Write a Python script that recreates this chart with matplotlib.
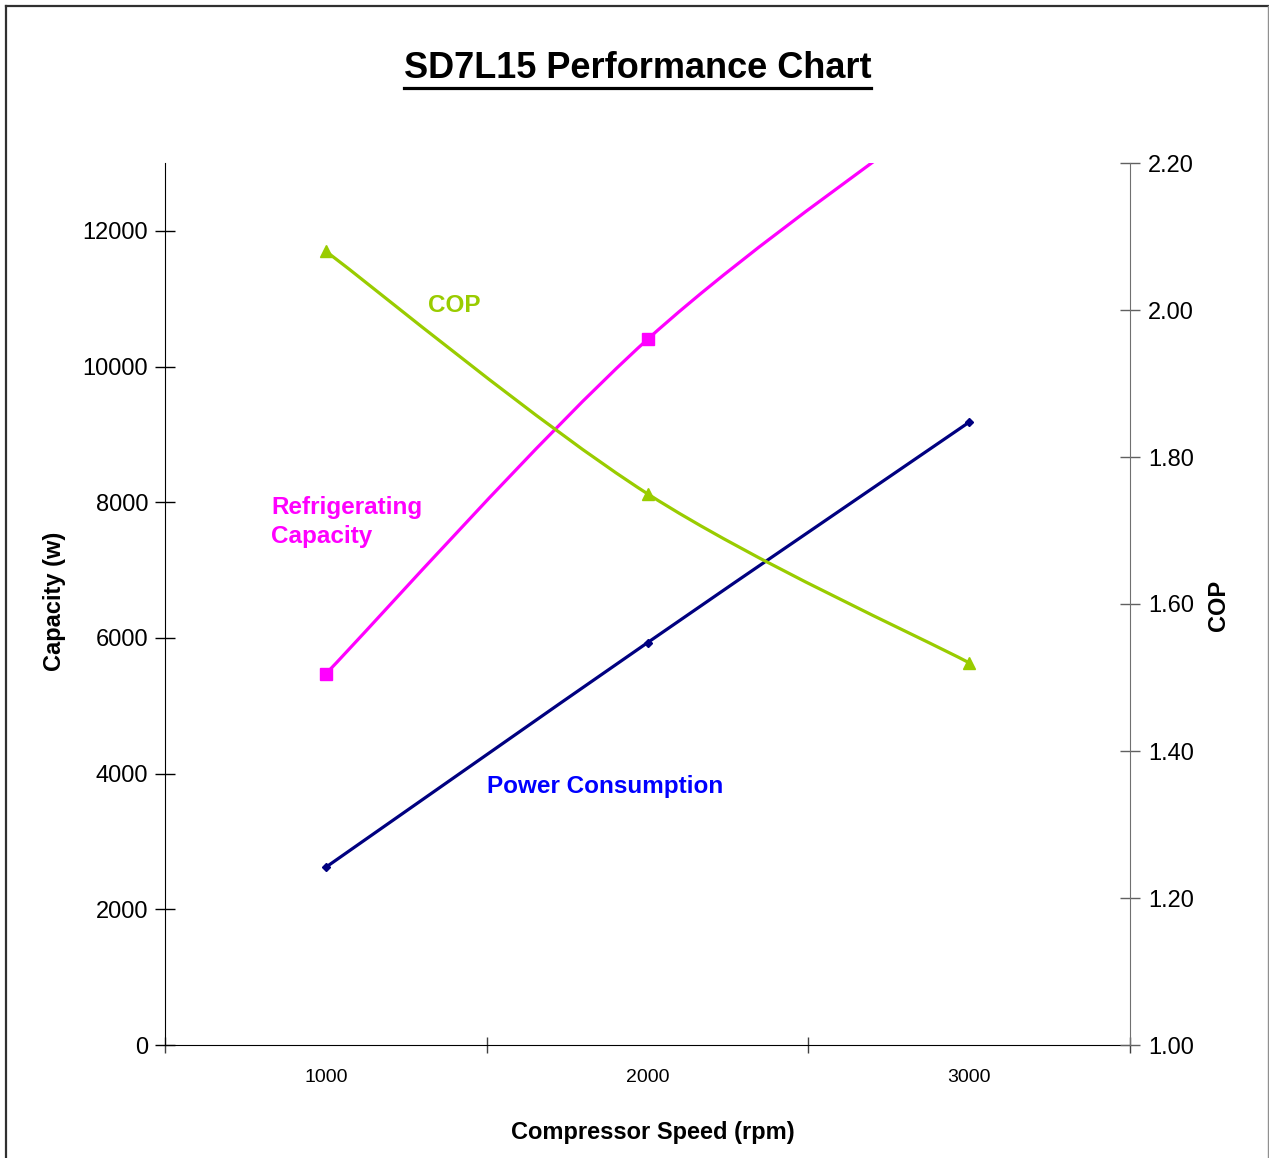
import matplotlib
matplotlib.use("Agg")
import matplotlib.pyplot as plt
from matplotlib.path import Path
from matplotlib.patches import PathPatch
from matplotlib.lines import Line2D
import numpy as np

plt.rcParams['font.family'] = ['Liberation Sans', 'DejaVu Sans']

# ---- data ----
speeds = ["1000", "2000", "3000"]
capacity = [5470, 10400, 14050]       # W (left axis)
power = [2620, 5930, 9180]            # W (left axis)
cop = [2.08, 1.75, 1.52]              # right axis
left_ticks = [0, 2000, 4000, 6000, 8000, 10000, 12000]
right_ticks = [1.00, 1.20, 1.40, 1.60, 1.80, 2.00, 2.20]

C_CAP = "#FF00FF"
C_COP = "#99CC00"
C_POW = "#000080"
C_POW_TXT = "#0000FF"


def smooth_path(xs, ys):
    """Excel-like smoothed line: cubic Bezier with control points (P[i+1]-P[i-1])/6."""
    pts = np.column_stack([xs, ys]).astype(float)
    n = len(pts)
    verts = [pts[0]]
    codes = [Path.MOVETO]
    for i in range(n - 1):
        p_prev = pts[i - 1] if i > 0 else pts[i]
        p0 = pts[i]
        p1 = pts[i + 1]
        p_next = pts[i + 2] if i + 2 < n else pts[i + 1]
        c1 = p0 + (p1 - p_prev) / 6.0
        c2 = p1 - (p_next - p0) / 6.0
        verts += [c1, c2, p1]
        codes += [Path.CURVE4] * 3
    return Path(verts, codes)


W, H = 1269, 1158
fig = plt.figure(figsize=(W / 100, H / 100), dpi=100)
ax = fig.add_axes([165 / W, 1 - 1045 / H, (1130 - 165) / W, (1045 - 163) / H])
ax2 = ax.twinx()

x = np.arange(len(speeds))

# left axis series
ax.add_patch(PathPatch(smooth_path(x, capacity), fill=False, edgecolor=C_CAP, lw=2.3, zorder=3))
ax.plot(x, capacity, linestyle="none", marker="s", ms=8, color=C_CAP, zorder=4)
ax.add_patch(PathPatch(smooth_path(x, power), fill=False, edgecolor=C_POW, lw=2.3, zorder=3))
ax.plot(x, power, linestyle="none", marker="D", ms=4.5, color=C_POW, zorder=4)

# right axis series
ax2.add_patch(PathPatch(smooth_path(x, cop), fill=False, edgecolor=C_COP, lw=2.3, zorder=3))
ax2.plot(x, cop, linestyle="none", marker="^", ms=9, color=C_COP, zorder=4)

ax.set_xlim(-0.5, len(speeds) - 0.5)
ax.set_ylim(0, 13000)
ax2.set_ylim(1.0, 2.2)

ax.set_xticks(np.arange(-0.5, len(speeds), 1.0))
ax.set_xticklabels([])
ax.set_xticks(x, minor=True)
ax.set_xticklabels(speeds, minor=True, fontsize=14)
ax.tick_params(axis="x", which="major", direction="inout", length=11, width=1, colors="#404040")
ax.tick_params(axis="x", which="minor", length=0, pad=17, labelcolor="black")

ax.set_yticks(left_ticks)
ax.set_yticklabels([str(v) for v in left_ticks], fontsize=17)
ax.tick_params(axis="y", direction="inout", length=14, width=1, pad=5)

ax2.set_yticks(right_ticks)
ax2.set_yticklabels([f"{v:.2f}" for v in right_ticks], fontsize=17)
ax2.tick_params(axis="y", direction="inout", length=14, width=1, pad=6, colors="#606060", labelcolor="black")

for s in ["top", "right"]:
    ax.spines[s].set_visible(False)
for s in ["top", "left", "bottom"]:
    ax2.spines[s].set_visible(False)
ax2.spines["right"].set_color("#707070")
ax.spines["left"].set_color("black")
ax.spines["bottom"].set_color("black")

# axis labels
fig.text(55 / W, 1 - 601 / H, "Capacity (w)", rotation=90, ha="center", va="center",
         fontsize=17, fontweight="bold")
fig.text(1218 / W, 1 - 605 / H, "COP", rotation=90, ha="center", va="center",
         fontsize=17, fontweight="bold")
fig.text(653 / W, 1 - 1132 / H, "Compressor Speed (rpm)", ha="center", va="center",
         fontsize=17, fontweight="bold")

# series labels
fig.text(428 / W, 1 - 305 / H, "COP", ha="left", va="center", fontsize=17.5,
         fontweight="bold", color=C_COP)
fig.text(271 / W, 1 - 522 / H, "Refrigerating\nCapacity", ha="left", va="center",
         fontsize=17.5, fontweight="bold", color=C_CAP, linespacing=1.38)
fig.text(487 / W, 1 - 787 / H, "Power Consumption", ha="left", va="center", fontsize=17.5,
         fontweight="bold", color=C_POW_TXT)

# title with underline
title = fig.text(637.5 / W, 1 - 68 / H, "SD7L15 Performance Chart", ha="center", va="center",
                 fontsize=26, fontweight="bold")
fig.canvas.draw()
bb = title.get_window_extent(renderer=fig.canvas.get_renderer())
uy = (H - 88) / H
fig.add_artist(Line2D([bb.x0 / W, bb.x1 / W], [uy, uy], transform=fig.transFigure,
                      color="black", lw=2.3))

# outer frame
fig.add_artist(Line2D([5.5 / W, 5.5 / W], [0, 1 - 6 / H], transform=fig.transFigure,
                      color="#303030", lw=1.6))
fig.add_artist(Line2D([5.5 / W, 1267.5 / W], [1 - 6 / H, 1 - 6 / H], transform=fig.transFigure,
                      color="#303030", lw=1.6))
fig.add_artist(Line2D([1267.5 / W, 1267.5 / W], [0, 1 - 6 / H], transform=fig.transFigure,
                      color="#909090", lw=1.0))

fig.savefig("out.png", dpi=100)
